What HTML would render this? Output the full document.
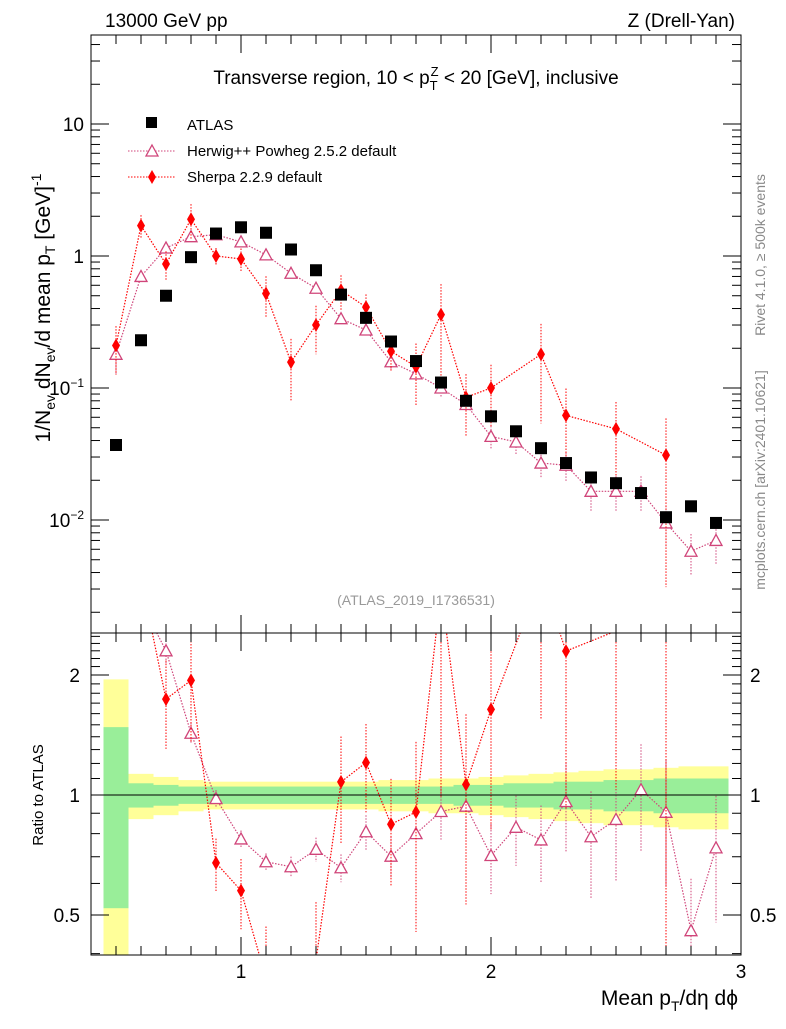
<!DOCTYPE html>
<html><head><meta charset="utf-8"><style>
body{margin:0;background:#fff;font-family:"Liberation Sans",sans-serif}
svg text{font-family:"Liberation Sans",sans-serif}
</style></head><body>
<svg id="c" width="786" height="1024" xmlns="http://www.w3.org/2000/svg">
<rect x="0" y="0" width="786" height="1024" fill="#fff"/>
<g id="ratioBands"></g>
<g id="marks"></g>
<rect x="91" y="35" width="650" height="598" fill="none" stroke="#000" stroke-width="1"/>
<rect x="91" y="633" width="650" height="322" fill="none" stroke="#000" stroke-width="1"/>
<line x1="91" y1="795" x2="741" y2="795" stroke="#000"/>
<g id="axes"></g>
<text x="105" y="27" font-size="19">13000 GeV pp</text>
<text x="735" y="27" font-size="19" text-anchor="end">Z (Drell-Yan)</text>
<text x="416" y="84" font-size="19" text-anchor="middle">Transverse region, 10 &lt; p<tspan font-size="13" dy="6">T</tspan><tspan font-size="13" dx="-7" dy="-14">Z</tspan><tspan dy="8"> &lt; 20 [GeV], inclusive</tspan></text>
<g>
<rect x="146" y="117" width="11" height="11" fill="#000"/>
<text x="187" y="130" font-size="15">ATLAS</text>
<line x1="128" y1="151" x2="176" y2="151" stroke="#d0457a" stroke-dasharray="1.5,1.5"/>
<polygon points="152,145 158,156 146,156" fill="#fff" stroke="#d0457a" stroke-width="1.3"/>
<text x="187" y="156" font-size="15">Herwig++ Powheg 2.5.2 default</text>
<line x1="128" y1="177" x2="176" y2="177" stroke="#f00" stroke-dasharray="1.5,1.5"/>
<polygon points="152,170 156,177 152,184 148,177" fill="#f00"/>
<text x="187" y="182" font-size="15">Sherpa 2.2.9 default</text>
</g>
<text x="416" y="605" font-size="14" fill="#999" text-anchor="middle">(ATLAS_2019_I1736531)</text>
<text transform="translate(765,255) rotate(-90)" font-size="14" fill="#888" text-anchor="middle">Rivet 4.1.0, ≥ 500k events</text>
<text transform="translate(765,480) rotate(-90)" font-size="14" fill="#888" text-anchor="middle">mcplots.cern.ch [arXiv:2401.10621]</text>
<text transform="translate(50,308) rotate(-90)" font-size="21" text-anchor="middle">1/N<tspan font-size="14" dy="5">ev</tspan><tspan dy="-5"> dN</tspan><tspan font-size="14" dy="5">ev</tspan><tspan dy="-5">/d mean p</tspan><tspan font-size="14" dy="5">T</tspan><tspan dy="-5"> [GeV]</tspan><tspan font-size="14" dy="-9">-1</tspan></text>
<text transform="translate(43,795) rotate(-90)" font-size="15" text-anchor="middle">Ratio to ATLAS</text>
<text x="738" y="1005" font-size="21" text-anchor="end">Mean p<tspan font-size="14" dy="6">T</tspan><tspan dy="-6">/dη dϕ</tspan></text>
</svg>
<script>
const xs=[0.5,0.6,0.7,0.8,0.9,1.0,1.1,1.2,1.3,1.4,1.5,1.6,1.7,1.8,1.9,2.0,2.1,2.2,2.3,2.4,2.5,2.6,2.7,2.8,2.9];
const atlas=[0.037,0.23,0.5,0.98,1.48,1.65,1.5,1.12,0.78,0.51,0.34,0.225,0.16,0.11,0.08,0.061,0.047,0.035,0.027,0.021,0.019,0.016,0.0105,0.0127,0.0095];
const herwig=[0.18,0.7,1.15,1.4,1.45,1.28,1.02,0.74,0.57,0.335,0.275,0.158,0.128,0.1,0.075,0.043,0.039,0.027,0.026,0.0165,0.0165,0.0165,0.0095,0.0058,0.007];
const herwigErr=[0.3,0.1,0.08,0.06,0.05,0.05,0.05,0.06,0.07,0.08,0.1,0.12,0.12,0.15,0.18,0.2,0.2,0.22,0.25,0.3,0.3,0.3,0.35,0.35,0.35];
const sherpaX=[0.5,0.6,0.7,0.8,0.9,1.0,1.1,1.2,1.3,1.4,1.5,1.6,1.7,1.8,1.9,2.0,2.2,2.3,2.5,2.7];
const sherpa=[0.21,1.7,0.87,1.9,1.0,0.95,0.52,0.157,0.3,0.55,0.41,0.19,0.145,0.36,0.085,0.1,0.18,0.062,0.049,0.031];
const sherpaErr=[0.4,0.2,0.25,0.3,0.15,0.2,0.35,0.5,0.4,0.3,0.25,0.3,0.5,0.7,0.5,0.5,0.7,0.6,0.6,0.9];
const bandGreenHi=[0.48,0.07,0.06,0.05,0.05,0.05,0.05,0.05,0.05,0.05,0.05,0.05,0.05,0.05,0.06,0.06,0.07,0.07,0.08,0.08,0.09,0.09,0.1,0.1,0.1];
const bandGreenLo=[0.48,0.07,0.06,0.05,0.05,0.05,0.05,0.05,0.05,0.05,0.05,0.05,0.05,0.05,0.06,0.06,0.07,0.07,0.08,0.08,0.09,0.09,0.1,0.1,0.1];
const bandYellow=[0.95,0.13,0.11,0.09,0.08,0.08,0.08,0.08,0.08,0.08,0.08,0.09,0.09,0.1,0.1,0.11,0.12,0.13,0.14,0.15,0.16,0.16,0.17,0.18,0.18];
const ratioTicks=[0.5,1,2];
const xTicks=[1,2,3];
const NS='http://www.w3.org/2000/svg';
const X=v=>91+(v-0.4)*250;
const Y=v=>124-132*(Math.log10(v)-1);
const R=v=>795-120*Math.log2(v);
function mk(parent,tag,attrs){const e=document.createElementNS(NS,tag);for(const k in attrs)e.setAttribute(k,attrs[k]);document.getElementById(parent).appendChild(e);return e;}
xs.forEach((x,i)=>{
 const x0=X(x-0.05),w=25;
 const yt=R(1+bandYellow[i]),yb=Math.min(955,R(Math.max(1-bandYellow[i],0.3)));
 let e=mk('ratioBands','rect',{x:x0,y:yt,width:w,height:yb-yt,fill:'#ffff99'});
 
 
 e=mk('ratioBands','rect',{x:x0,y:R(1+bandGreenHi[i]),width:w,height:R(1-bandGreenLo[i])-R(1+bandGreenHi[i]),fill:'#99ee99'});
 
 
});
function clipR(v){return Math.min(Math.max(v,0.3),3.5);}
function series(xarr,vals,errs,color,kind,name){
 let pts=xarr.map((x,i)=>X(x)+','+Y(vals[i])).join(' ');
 let l=mk('marks','polyline',{points:pts,fill:'none',stroke:color,'stroke-dasharray':'1.5,1.5','stroke-width':1.2});
 
 
 const rat=xarr.map((x,i)=>vals[i]/atlas[xs.indexOf(x)]);
 let rp=xarr.map((x,i)=>X(x)+','+R(clipR(rat[i]))).join(' ');
 mk('marks','clipPath',{id:'cl'+name});mk('cl'+name,'rect',{x:91,y:633,width:650,height:322});
 let rl=mk('marks','polyline',{points:rp,fill:'none',stroke:color,'stroke-dasharray':'1.5,1.5','stroke-width':1.2,'clip-path':'url(#cl'+name+')'});
 
 
 xarr.forEach((x,i)=>{
  const cx=X(x);
  [[Y,vals[i],true],[R,rat[i],false]].forEach(([F,v,main])=>{
   const lo=v*(1-Math.min(errs[i],0.95)),hi=v*(1+errs[i]);
   let y1=F(hi),y2=F(lo);
   if(!main){y1=Math.max(y1,633);y2=Math.min(y2,955);}else{y2=Math.min(y2,633);}
   if(y2>y1){let eb=mk('marks','line',{x1:cx,x2:cx,y1:y1,y2:y2,stroke:color,'stroke-dasharray':'1.5,1.5'});
   
   }
   const cy=F(v);
   if(!main&&(cy<636||cy>952))return;
   let m;
   if(kind==='tri')m=mk('marks','polygon',{points:`${cx},${cy-6} ${cx+6},${cy+5} ${cx-6},${cy+5}`,fill:'#fff',stroke:color,'stroke-width':1.3});
   else m=mk('marks','polygon',{points:`${cx},${cy-7} ${cx+4},${cy} ${cx},${cy+7} ${cx-4},${cy}`,fill:color});
   
   
  });
 });
}
series(xs,herwig,herwigErr,'#d0457a','tri','herwig');
series(sherpaX,sherpa,sherpaErr,'#f00','dia','sherpa');
xs.forEach((x,i)=>{
 let m=mk('marks','rect',{x:X(x)-6,y:Y(atlas[i])-6,width:12,height:12,fill:'#000'});
 
 
});
for(let d=-3;d<=1;d++){for(let k=1;k<10;k++){const v=k*Math.pow(10,d);const y=Y(v);if(y<35||y>633)continue;const len=k===1?18:9;
 mk('axes','line',{x1:91,x2:91+len,y1:y,y2:y,stroke:'#000'});mk('axes','line',{x1:741-len,x2:741,y1:y,y2:y,stroke:'#000'});}}
const ylabs=[[10,'10'],[1,'1'],[0.1,'10<tspan font-size="12" dy="-8">−1</tspan>'],[0.01,'10<tspan font-size="12" dy="-8">−2</tspan>']];
ylabs.forEach(([v,t])=>{const e=mk('axes','text',{x:84,y:Y(v)+7,'font-size':19,'text-anchor':'end'});e.innerHTML=t;
 
 });
for(let v=0.4;v<=2.6;v+=0.1){const y=R(v);if(y<633||y>955)continue;const major=ratioTicks.some(t=>Math.abs(t-v)<1e-6);const len=major?18:9;
 mk('axes','line',{x1:91,x2:91+len,y1:y,y2:y,stroke:'#000'});mk('axes','line',{x1:741-len,x2:741,y1:y,y2:y,stroke:'#000'});}
ratioTicks.forEach(v=>{let e=mk('axes','text',{x:80,y:R(v)+7,'font-size':19,'text-anchor':'end'});e.textContent=v;
 
 
 e=mk('axes','text',{x:750,y:R(v)+7,'font-size':19});e.textContent=v;
 
 });
for(let v=0.4;v<=3.001;v+=0.1){const x=X(v);const major=Math.abs(v-Math.round(v))<1e-6;const len=major?18:9;
 [35,633].forEach(t=>mk('axes','line',{x1:x,x2:x,y1:t,y2:t+len,stroke:'#000'}));
 [633,955].forEach(b=>mk('axes','line',{x1:x,x2:x,y1:b-len,y2:b,stroke:'#000'}));}
xTicks.forEach(v=>{const e=mk('axes','text',{x:X(v),y:978,'font-size':19,'text-anchor':'middle'});e.textContent=v;
 
 });
</script>
</body></html>
